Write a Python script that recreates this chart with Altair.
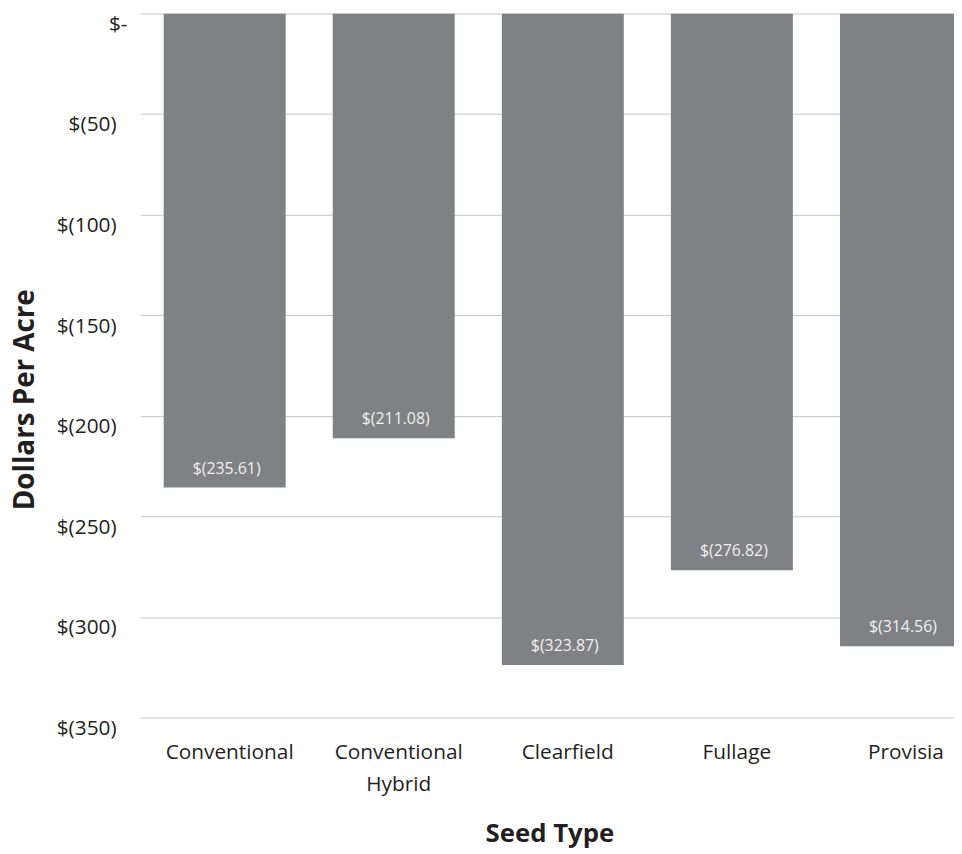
import altair as alt
import pandas as pd

seed_types = ["Conventional", "Conventional Hybrid", "Clearfield", "Fullage", "Provisia"]
dollars_per_acre = [-235.61, -211.08, -323.87, -276.82, -314.56]
y_ticks = [0, -50, -100, -150, -200, -250, -300, -350]

df = pd.DataFrame({"seed": seed_types, "value": dollars_per_acre})
df["label"] = ["$({:.2f})".format(-v) for v in dollars_per_acre]

FONT = "Open Sans"
TXT = "#231f20"

x_enc = alt.X(
    "seed:N",
    sort=seed_types,
    scale=alt.Scale(range=[10.25, 862.75], paddingInner=0.2786, paddingOuter=0.1393),
    axis=alt.Axis(
        title="Seed Type",
        domain=False,
        ticks=False,
        grid=False,
        labelAngle=0,
        labelFont=FONT,
        labelFontSize=21,
        labelColor=TXT,
        labelBaseline="top",
        labelPadding=24,
        labelOffset=5,
        labelLineHeight=33,
        labelOverlap=False,
        labelExpr="datum.label == 'Conventional Hybrid' ? ['Conventional', 'Hybrid'] : datum.label",
        titleFont=FONT,
        titleFontSize=26,
        titleFontWeight="bold",
        titleColor=TXT,
        titleX=423,
        titleY=117,
        titleAlign="center",
        titleBaseline="middle",
    ),
)

y_enc = alt.Y(
    "value:Q",
    scale=alt.Scale(domain=[-350, 0], nice=False),
    axis=alt.Axis(
        values=y_ticks,
        title="Dollars Per Acre",
        labelExpr="datum.value == 0 ? '$-' : '$(' + format(-datum.value, 'd') + ')'",
        domain=False,
        ticks=False,
        grid=True,
        gridColor="#c4c4c4",
        gridWidth=1,
        labelFont=FONT,
        labelFontSize=21,
        labelColor=TXT,
        labelAlign="right",
        labelBaseline="top",
        labelPadding={"condition": {"test": "datum.value === 0", "value": 3}, "value": 14},
        titleFont=FONT,
        titleFontSize=28,
        titleFontWeight="bold",
        titleColor=TXT,
        titleAngle=270,
        titleX=-105,
        titleY=389,
        titleAlign="center",
        titleBaseline="middle",
    ),
)

bars = alt.Chart(df).mark_bar(color="#808185", clip=True).encode(x=x_enc, y=y_enc)

labels = alt.Chart(df).mark_text(
    font=FONT, fontSize=16, color="#f0f0f0", dy=-19, dx=2, align="center", baseline="middle"
).encode(x=x_enc, y=alt.Y("value:Q"), text="label:N")

chart = (
    alt.layer(bars, labels)
    .properties(
        width=831,
        height=710,
        autosize=alt.AutoSizeParams(type="none"),
        padding={"left": 123, "top": 2, "right": 0, "bottom": 134},
    )
    .configure_view(stroke=None)
)

chart.save("out.html", embed_options={"renderer": "svg", "actions": False})
